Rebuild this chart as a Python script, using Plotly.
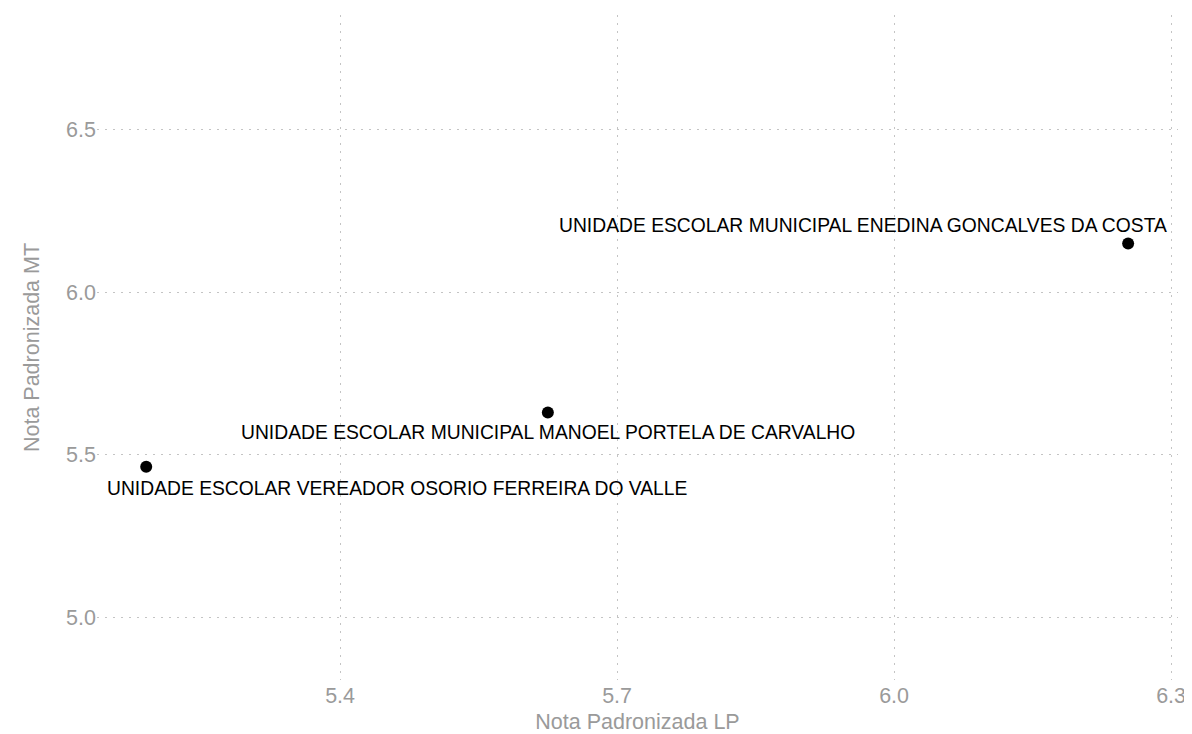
import plotly.graph_objects as go

escolas = [
    "UNIDADE ESCOLAR VEREADOR OSORIO FERREIRA DO VALLE",
    "UNIDADE ESCOLAR MUNICIPAL MANOEL PORTELA DE CARVALHO",
    "UNIDADE ESCOLAR MUNICIPAL ENEDINA GONCALVES DA COSTA",
]
nota_lp = [5.19, 5.625, 6.2535]
nota_mt = [5.463, 5.63, 6.15]

x_ticks = [5.4, 5.7, 6.0, 6.3]
y_ticks = [5.0, 5.5, 6.0, 6.5]

# label offsets in pixels (style)
label_shift = [(251, -22), (0, -20), (-265, 18)]

FONT = "Liberation Sans, Arial, Helvetica, sans-serif"
GRID = "#c4c4c4"
GRAY = "#9a9a9a"

fig = go.Figure()
fig.add_trace(go.Scatter(
    x=nota_lp, y=nota_mt, mode="markers",
    marker=dict(color="black", size=12),
    hoverinfo="skip", showlegend=False,
))

for name, x, y, (dx, dy) in zip(escolas, nota_lp, nota_mt, label_shift):
    fig.add_annotation(
        x=x, y=y, text=name, showarrow=False,
        xshift=dx, yshift=dy, xanchor="center", yanchor="middle",
        font=dict(family=FONT, size=19.3, color="black"),
    )

fig.update_layout(
    width=1184, height=726,
    paper_bgcolor="white", plot_bgcolor="white",
    margin=dict(l=89, r=14, t=7, b=54),
    font=dict(family=FONT, color=GRAY),
    xaxis=dict(
        range=[5.1367, 6.3075], tickvals=x_ticks, ticktext=[f"{v:.1f}" for v in x_ticks],
        showgrid=True, gridcolor=GRID, griddash="2px,6px", gridwidth=1,
        zeroline=False, showline=False, ticks="", automargin=False,
        tickfont=dict(size=21.5, color=GRAY, family=FONT),
        title=dict(text="Nota Padronizada LP", font=dict(size=21.5, color=GRAY, family=FONT), standoff=8),
    ),
    yaxis=dict(
        range=[4.806, 6.854], tickvals=y_ticks, ticktext=[f"{v:.1f}" for v in y_ticks],
        showgrid=True, gridcolor=GRID, griddash="2px,6px", gridwidth=1,
        zeroline=False, showline=False, ticks="", automargin=False,
        tickfont=dict(size=21.5, color=GRAY, family=FONT),
        title=dict(text="Nota Padronizada MT", font=dict(size=21.5, color=GRAY, family=FONT), standoff=20),
    ),
)

fig.write_html("out.html")
